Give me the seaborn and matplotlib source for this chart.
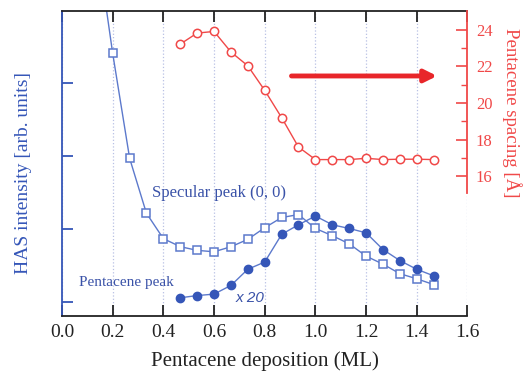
import matplotlib
matplotlib.use("Agg")
import matplotlib.pyplot as plt
import seaborn as sns
import pandas as pd

# Deposition steps (ML)
deposition = [0.133, 0.2, 0.267, 0.333, 0.4, 0.467, 0.533, 0.6, 0.667, 0.733, 0.8,
              0.867, 0.933, 1.0, 1.067, 1.133, 1.2, 1.267, 1.333, 1.4, 1.467]
# Specular (0, 0) intensity, arb. units
specular = [6.04, 4.41, 2.97, 2.22, 1.87, 1.76, 1.71, 1.69, 1.76, 1.86, 2.02,
            2.16, 2.20, 2.01, 1.91, 1.80, 1.63, 1.52, 1.39, 1.32, 1.24]

# Pentacene diffraction peak (scaled x 20)
deposition_pc = [0.467, 0.533, 0.6, 0.667, 0.733, 0.8, 0.867, 0.933, 1.0,
                 1.067, 1.133, 1.2, 1.267, 1.333, 1.4, 1.467]
pentacene_peak = [1.06, 1.09, 1.11, 1.23, 1.45, 1.55, 1.93, 2.06, 2.18,
                  2.06, 2.01, 1.95, 1.72, 1.57, 1.45, 1.36]

# Pentacene spacing (Å)
spacing = [23.23, 23.83, 23.92, 22.79, 22.04, 20.69, 19.19, 17.59, 16.90,
           16.90, 16.90, 16.97, 16.90, 16.92, 16.92, 16.90]

x_ticks = [0.0, 0.2, 0.4, 0.6, 0.8, 1.0, 1.2, 1.4, 1.6]
x_tick_labels = ["0.0", "0.2", "0.4", "0.6", "0.8", "1.0", "1.2", "1.4", "1.6"]
spacing_ticks = [16, 18, 20, 22, 24]

BLUE = "#3556b8"
BLUE_LINE = "#5c79cc"
TEXT_BLUE = "#3a52a8"
RED = "#f04848"
ARROW_RED = "#e8262a"

sns.set_style("ticks")
plt.rcParams["font.family"] = ["Liberation Serif", "DejaVu Serif"]

fig = plt.figure(figsize=(5.28, 3.77), dpi=100)
ax = fig.add_axes([0.1174, 0.1618, 0.768, 0.809])

spec_df = pd.DataFrame({"dep": deposition, "I": specular})
pc_df = pd.DataFrame({"dep": deposition_pc, "I": pentacene_peak})
sp_df = pd.DataFrame({"dep": deposition_pc, "d": spacing})

sns.lineplot(data=spec_df, x="dep", y="I", ax=ax, color=BLUE_LINE, lw=1.0,
             marker="s", markersize=5.8, markerfacecolor="white",
             markeredgecolor=BLUE_LINE, markeredgewidth=1.1)
sns.lineplot(data=pc_df, x="dep", y="I", ax=ax, color=BLUE_LINE, lw=1.0,
             marker="o", markersize=6, markerfacecolor=BLUE,
             markeredgecolor=BLUE, markeredgewidth=1.0)

ax.set_xlim(0.0, 1.6)
ax.set_ylim(0.81, 4.99)
ax.set_xticks(x_ticks)
ax.set_xticklabels(x_tick_labels)
ax.set_yticks([1, 2, 3, 4])
ax.grid(axis="x", linestyle=":", color="#b8c0e4", lw=0.9)
ax.grid(axis="y", visible=False)

ax.tick_params(axis="x", direction="in", top=True, length=8, width=1.3,
               labelsize=14, pad=6, colors="#222222")
ax.tick_params(axis="y", direction="in", length=8, width=1.3,
               labelleft=False, colors=BLUE)
for side in ("bottom", "top"):
    ax.spines[side].set_color("#222222")
    ax.spines[side].set_linewidth(1.3)
ax.spines["left"].set_color(BLUE)
ax.spines["left"].set_linewidth(1.3)
ax.spines["right"].set_visible(False)

ax.set_xlabel("Pentacene deposition (ML)", fontsize=15, color="#222222", labelpad=7)
ax.set_ylabel("HAS intensity [arb. units]", fontsize=14, color=BLUE)
ax.yaxis.set_label_coords(-0.075, 0.47)

ax.text(0.355, 2.49, "Specular peak (0, 0)", fontsize=12, color=TEXT_BLUE,
        ha="left", va="center")
ax.text(0.067, 1.27, "Pentacene peak", fontsize=11, color=TEXT_BLUE,
        ha="left", va="center")
ax.text(0.685, 1.06, "x 20", fontsize=11, color=TEXT_BLUE, style="italic",
        family=["Liberation Sans", "DejaVu Sans"], ha="left", va="center")

# Spacing on its own right-hand scale, spanning the upper part of the frame
ax2 = ax.twinx()
sns.lineplot(data=sp_df, x="dep", y="d", ax=ax2, color=RED, lw=1.0,
             marker="o", markersize=6, markerfacecolor="white",
             markeredgecolor=RED, markeredgewidth=1.1)
ax2.set_ylim(8.33, 25.04)
ax2.set_yticks(spacing_ticks)
ax2.set_yticks([17, 19, 21, 23], minor=True)
ax2.spines["right"].set_bounds(15.05, 25.04)
ax2.spines["right"].set_color(RED)
ax2.spines["right"].set_linewidth(1.3)
for side in ("left", "top", "bottom"):
    ax2.spines[side].set_visible(False)
ax2.tick_params(axis="y", which="major", direction="in", length=8, width=1.2,
                colors=RED, labelsize=12, pad=6)
ax2.tick_params(axis="y", which="minor", direction="in", length=4, width=1.0,
                colors=RED)
ax2.set_ylabel("Pentacene spacing [Å]", fontsize=13.5, color=RED, rotation=270)
ax2.yaxis.set_label_coords(1.133, 0.667)
ax2.set_xlabel("")

ax2.annotate("", xy=(0.925, 0.787), xytext=(0.566, 0.787),
             xycoords="axes fraction", textcoords="axes fraction",
             arrowprops=dict(arrowstyle="-|>", color=ARROW_RED, lw=3.5,
                             mutation_scale=18, shrinkA=0, shrinkB=0))

ax.set_xlim(0.0, 1.6)
fig.savefig("out.png", dpi=100)
